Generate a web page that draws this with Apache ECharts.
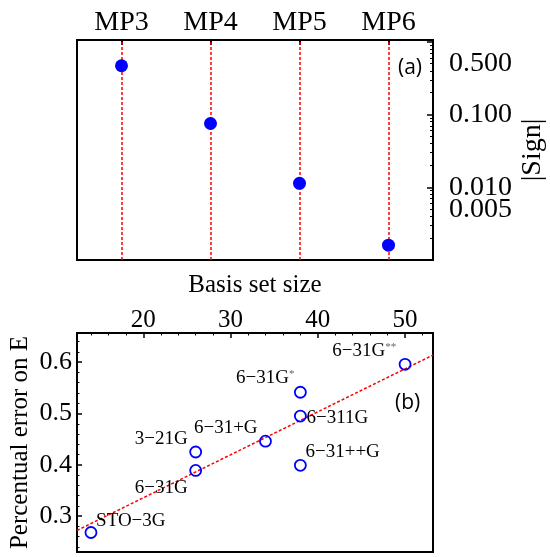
<!DOCTYPE html>
<html><head><meta charset="utf-8">
<script src="https://cdn.jsdelivr.net/npm/echarts@6/dist/echarts.min.js"></script>
<style>html,body{margin:0;padding:0;background:#fff}#c{width:550px;height:557px}</style>
</head><body><div id="c"></div>
<script>
// ---- data: panel (a)
const methods = ['MP3', 'MP4', 'MP5', 'MP6'];
const signValues = [0.469, 0.0753, 0.01135, 0.0016];
const signTickLabels = [0.01, 0.1, 0.5];
const signExtraTickLabels = [0.005];
const signMinorTicks = [0.002,0.003,0.004,0.005,0.006,0.007,0.008,0.009,0.02,0.03,0.04,0.05,0.06,0.07,0.08,0.09,0.2,0.3,0.4,0.5,0.6,0.7,0.8,0.9];
const signMajorTicks = [0.001, 0.01, 0.1, 1];

// ---- data: panel (b)
const basisNames = ['STO−3G', '3−21G', '6−31G', '6−31+G', '6−31G*', '6−311G', '6−31++G', '6−31G**'];
const basisSizes = [14, 26, 26, 34, 38, 38, 38, 50];
const errorValues = [0.268, 0.425, 0.389, 0.446, 0.5415, 0.495, 0.399, 0.596];
const fitX = [12.4, 53.2];
const fitY = [0.272, 0.614];
const sizeTickLabels = [20, 30, 40, 50];
const sizeMinorTicks = [14,16,18,22,24,26,28,32,34,36,38,42,44,46,48,52];
const errorTickLabels = [0.3, 0.4, 0.5, 0.6];
const errorMinorTicks = [0.24,0.26,0.28,0.32,0.34,0.36,0.38,0.42,0.44,0.46,0.48,0.52,0.54,0.56,0.58,0.62,0.64];

// ---- label placement (style only): [dx, dy, align]
const labelPlacement = {
  'STO−3G': [6, -11, 'left'],
  '3−21G': [-7, -12, 'right'],
  '6−31G': [-7, 18, 'right'],
  '6−31+G': [-7, -12, 'right'],
  '6−31G*': [-5, -13, 'right'],
  '6−311G': [7, 3, 'left'],
  '6−31++G': [6, -12, 'left'],
  '6−31G**': [-8, -12, 'right']
};

const SERIF = 'Liberation Serif';
const BLUE = '#0000ff';
const RED = '#ff0000';
const hs = 5.5; // half symbol size of panel (b) markers

const chart = echarts.init(document.getElementById('c'), null, {renderer: 'canvas'});

const noSplit = {show: false};
const signLabel = {fontFamily: SERIF, fontSize: 28, color: '#000', margin: 16, hideOverlap: false,
  formatter: v => Number(v).toFixed(3)};
const option = {
  animation: false,
  backgroundColor: '#fff',
  grid: [
    {left: 77, right: 117, top: 40, height: 220, show: true, borderColor: '#000', borderWidth: 2, containLabel: false, outerBoundsMode: 'none'},
    {left: 77, right: 117, top: 333, height: 219, show: true, borderColor: '#000', borderWidth: 2, containLabel: false, outerBoundsMode: 'none'}
  ],
  xAxis: [
    {
      gridIndex: 0, type: 'category', position: 'top', data: methods, boundaryGap: true,
      axisLine: {show: false},
      axisTick: {show: true, inside: true, alignWithLabel: true, length: 5, lineStyle: {color: '#000', width: 2}},
      axisLabel: {fontFamily: SERIF, fontSize: 28, color: '#000', margin: 3},
      splitLine: noSplit
    },
    {
      gridIndex: 1, type: 'value', position: 'top', min: 12.4, max: 53.2,
      name: 'Basis set size', nameLocation: 'middle', nameGap: 35, nameMoveOverlap: false,
      nameTextStyle: {fontFamily: SERIF, fontSize: 25, color: '#000'},
      axisLine: {show: false},
      axisTick: {show: true, inside: true, length: 5, customValues: sizeTickLabels, lineStyle: {color: '#000', width: 1.5}},
      axisLabel: {fontFamily: SERIF, fontSize: 25, color: '#000', margin: 0, customValues: sizeTickLabels, hideOverlap: false},
      splitLine: noSplit
    },
    {
      gridIndex: 1, type: 'value', position: 'top', min: 12.4, max: 53.2,
      axisLine: {show: false},
      axisTick: {show: true, inside: true, length: 2.5, customValues: sizeMinorTicks, lineStyle: {color: '#000', width: 1}},
      axisLabel: {show: false},
      splitLine: noSplit
    }
  ],
  yAxis: [
    {
      gridIndex: 0, type: 'log', position: 'right', min: 0.001, max: 1.06, logBase: 10,
      name: '|Sign|', nameLocation: 'middle', nameGap: 86, nameRotate: 90, nameMoveOverlap: false,
      nameTextStyle: {fontFamily: SERIF, fontSize: 28, color: '#000'},
      axisLine: {show: false},
      axisTick: {show: true, inside: true, length: 3, customValues: signMinorTicks, lineStyle: {color: '#000', width: 1}},
      axisLabel: Object.assign({customValues: signTickLabels}, signLabel),
      splitLine: noSplit
    },
    {
      gridIndex: 0, type: 'log', position: 'right', min: 0.001, max: 1.06, logBase: 10,
      axisLine: {show: false},
      axisTick: {show: true, inside: true, length: 6, customValues: signMajorTicks, lineStyle: {color: '#000', width: 1.5}},
      axisLabel: Object.assign({customValues: signExtraTickLabels}, signLabel),
      splitLine: noSplit
    },
    {
      gridIndex: 1, type: 'value', position: 'left', min: 0.23, max: 0.657,
      name: 'Percentual error on E', nameLocation: 'middle', nameGap: 44, nameRotate: 90, nameMoveOverlap: false,
      nameTextStyle: {fontFamily: SERIF, fontSize: 25, color: '#000'},
      axisLine: {show: false},
      axisTick: {show: true, inside: true, length: 5, customValues: errorTickLabels, lineStyle: {color: '#000', width: 1.5}},
      axisLabel: {fontFamily: SERIF, fontSize: 26, color: '#000', margin: 5, customValues: errorTickLabels, hideOverlap: false,
        formatter: v => Number(v).toFixed(1)},
      splitLine: noSplit
    },
    {
      gridIndex: 1, type: 'value', position: 'left', min: 0.23, max: 0.657,
      axisLine: {show: false},
      axisTick: {show: true, inside: true, length: 2.5, customValues: errorMinorTicks, lineStyle: {color: '#000', width: 1}},
      axisLabel: {show: false},
      splitLine: noSplit
    }
  ],
  series: [
    {
      type: 'scatter', xAxisIndex: 0, yAxisIndex: 0,
      data: methods.map((m, i) => [m, signValues[i]]),
      symbol: 'circle', symbolSize: 13,
      itemStyle: {color: BLUE, opacity: 1},
      z: 5,
      markLine: {
        silent: true, symbol: ['none', 'none'], label: {show: false},
        lineStyle: {color: RED, type: [3, 2], width: 1.5, opacity: 1},
        data: methods.map(m => ({xAxis: m}))
      }
    },
    {
      type: 'line', xAxisIndex: 1, yAxisIndex: 2,
      data: fitX.map((x, i) => [x, fitY[i]]),
      symbol: 'none', silent: true,
      lineStyle: {color: RED, type: [3, 2], width: 1.5, opacity: 1}
    },
    {
      type: 'scatter', xAxisIndex: 1, yAxisIndex: 2,
      data: basisNames.map((n, i) => {
        const p = labelPlacement[n];
        return {
          name: n, value: [basisSizes[i], errorValues[i]],
          label: {position: [hs + p[0], hs + p[1]], align: p[2], verticalAlign: 'middle'}
        };
      }),
      symbol: 'circle', symbolSize: 11,
      itemStyle: {color: 'rgba(255,255,255,0)', borderColor: BLUE, borderWidth: 1.8, opacity: 1},
      z: 5,
      label: {
        show: true, fontFamily: SERIF, fontSize: 19, color: '#000', opacity: 1, lineHeight: 20,
        formatter: p => p.name.replace(/(\*+)$/, '{sup|$1}'),
        rich: {sup: {fontFamily: SERIF, fontSize: 11, color: '#666', verticalAlign: 'top', lineHeight: 20}}
      }
    }
  ],
  graphic: [
    {type: 'text', left: 398, top: 58, style: {text: '(a)', font: '21px "Open Sans"', fill: '#000'}},
    {type: 'text', left: 395, top: 393, style: {text: '(b)', font: '21px "Open Sans"', fill: '#000'}}
  ]
};
chart.setOption(option);
</script>
</body></html>
